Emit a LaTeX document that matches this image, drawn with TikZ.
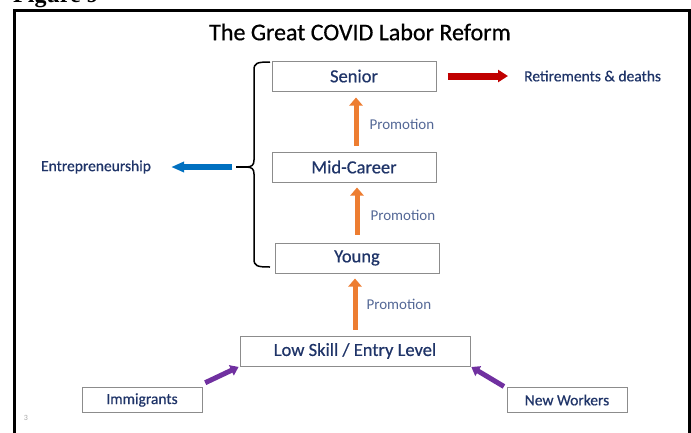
\documentclass[tikz,border=0pt]{standalone}
\usepackage{fontspec}
\setmainfont{Carlito}
\newfontfamily\labelfont{Carlito}[FakeBold=0.6]
\newfontfamily\figfont{Liberation Serif}
\usetikzlibrary{arrows.meta}

\definecolor{boxtext}{RGB}{31,52,104}
\definecolor{promtext}{RGB}{84,104,150}
\definecolor{boxline}{RGB}{140,140,140}
\definecolor{promorange}{RGB}{237,125,49}
\definecolor{retirered}{RGB}{192,0,0}
\definecolor{entreblue}{RGB}{0,112,192}
\definecolor{entrypurple}{RGB}{112,48,160}

\tikzset{
	stage/.style = {draw = boxline, line width = 1pt, text = boxtext, font = \labelfont\fontsize{18.5}{20}\selectfont, minimum height = 30pt, inner sep = 0pt},
	source/.style = {draw = boxline, line width = 1pt, text = boxtext, font = \labelfont\fontsize{15.5}{17}\selectfont, minimum width = 120pt, minimum height = 25pt, inner sep = 0pt},
	outcome/.style = {text = boxtext, font = \labelfont\fontsize{15.5}{17}\selectfont, inner sep = 3pt},
	promote/.style = {-{Triangle[width = 13pt, length = 8pt]}, line width = 5pt, promorange},
	promlabel/.style = {text = promtext, font = \fontsize{15}{17}\selectfont, inner sep = 0pt},
	inflow/.style = {-{Triangle[width = 11pt, length = 8pt]}, line width = 5pt, entrypurple}
}

\begin{document}
\begin{tikzpicture}[x = 1pt, y = -1pt]
\useasboundingbox (0, 0) rectangle (691, 432);

	% Frame and caption

	\node [anchor = base west, inner sep = 0pt, font = \figfont\bfseries\fontsize{24}{26}\selectfont] (caption) at (13, 2) {Figure 9};
	\draw [line width = 3pt] (14.5, 440) -- (14.5, 10.5) -- (689, 10.5) -- (689, 440);

	\node [font = \labelfont\fontsize{24}{26}\selectfont] (title) at (360, 32) {The Great COVID Labor Reform};
	\node [text = black!35, font = \fontsize{8}{9}\selectfont] (pagenum) at (26, 418) {3};

	% Career ladder

	\node [stage, minimum width = 164pt] (senior) at (354, 76) {Senior};
	\node [stage, minimum width = 164pt] (mid) at (354, 167) {Mid-Career};
	\node [stage, minimum width = 164pt] (young) at (357, 258) {Young};
	\node [stage, minimum width = 230pt] (low) at (355, 351) {Low Skill / Entry Level};

	\draw [promote, shorten <= 6pt, shorten >= 6pt] ([xshift = 2pt] mid.north) -- node [promlabel, right = 11pt, yshift = -3pt] {Promotion} ([xshift = 2pt] senior.south);
	\draw [promote, shorten <= 8pt, shorten >= 5pt] (young.north) -- node [promlabel, right = 11pt, yshift = -3pt] {Promotion} (young.north |- mid.south);
	\draw [promote, shorten <= 6pt, shorten >= 5pt] (low.north) -- node [promlabel, right = 9pt] {Promotion} (low.north |- young.south);

	% Exits

	\node [outcome, anchor = west] (retire) at (521, 76) {Retirements \& deaths};
	\draw [-{Triangle[width = 12pt, length = 10pt]}, line width = 7pt, retirered, shorten <= 11pt, shorten >= 13pt] (senior.east) -- (retire.west);

	\draw [line width = 1.5pt] (270, 62) .. controls (257, 62) and (254, 63) .. (254, 70) -- (254, 160) .. controls (254, 165) and (252, 167) .. (246, 167) .. controls (252, 167) and (254, 169) .. (254, 174) -- (254, 259) .. controls (254, 266) and (257, 267) .. (270, 267);
	\coordinate (bracetip) at (246, 167);
	\coordinate (outlet) at (232, 167);
	\draw [line width = 1.2pt] (bracetip) -- ++(-10, 0);

	\node [outcome] (entre) at (96, 167) {Entrepreneurship};
	\draw [-{Triangle[width = 10pt, length = 13pt]}, line width = 5.5pt, entreblue, shorten >= 17pt] (outlet) -- (entre.east);

	% Entries

	\node [source] (imm) at (142, 400) {Immigrants};
	\node [source] (neww) at (567, 400) {New Workers};

	\draw [inflow, shorten <= 3pt, shorten >= 1pt] ([yshift = 3pt] imm.north east) -- (low.south west);
	\draw [inflow, shorten <= 3pt, shorten >= 1pt] ([yshift = -1pt] neww.north west) -- (low.south east);

\end{tikzpicture}
\end{document}
